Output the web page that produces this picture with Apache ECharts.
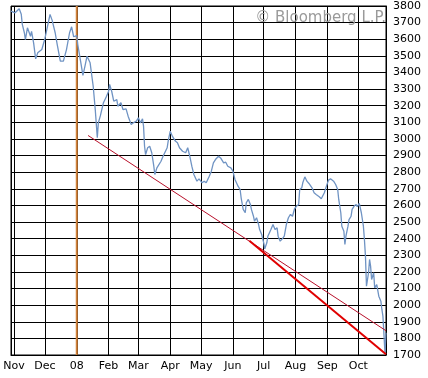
<!DOCTYPE html>
<html>
<head>
<meta charset="utf-8">
<script src="https://cdn.jsdelivr.net/npm/echarts@6/dist/echarts.min.js"></script>
<style>
html,body{margin:0;padding:0;background:#fff;}
#chart{width:428px;height:378px;}
</style>
</head>
<body>
<div id="chart"></div>
<script>
// day offsets from 1 Nov 2007, and index level
var days = [-3,1,5,7,8,10,11,13,14,16,17,19,21,23,27,30,32,35,37,40,42,45,48,51,54,56,58,61,62,65,67,69,71,74,77,79,81,82,84,87,90,92,93,95,97,100,101,104,106,109,111,114,116,119,121,123,125,126,127,128,130,132,134,136,137,139,143,145,149,150,152,154,157,159,161,164,167,169,171,173,175,178,180,183,185,187,190,192,194,196,199,201,204,206,208,211,213,215,218,220,221,223,225,226,228,230,231,233,234,236,238,239,241,243,244,246,247,250,252,254,256,257,259,261,263,265,267,269,271,273,275,277,278,280,281,283,285,287,290,292,294,297,299,302,304,306,308,311,313,315,316,318,319,321,322,323,325,326,328,329,331,333,334,336,337,338,340,341,342,343,345,346,347,348,350,351,353,354,355,357,358,359,361,362];
var values = [3769,3759,3783,3750,3689,3639,3598,3669,3679,3618,3648,3578,3482,3518,3538,3603,3663,3749,3715,3639,3568,3468,3468,3538,3639,3675,3615,3622,3568,3458,3382,3438,3498,3458,3317,3177,3007,3097,3140,3218,3257,3287,3328,3287,3227,3237,3197,3218,3177,3181,3137,3087,3097,3107,3127,3097,3121,3077,2956,2906,2947,2956,2917,2836,2786,2826,2866,2896,2947,2987,3047,3017,2987,2977,2947,2926,2917,2947,2896,2836,2786,2746,2760,2736,2746,2736,2776,2806,2856,2876,2896,2886,2856,2860,2836,2826,2806,2756,2716,2696,2646,2576,2556,2616,2636,2606,2576,2535,2505,2526,2485,2455,2425,2375,2339,2375,2415,2455,2485,2455,2465,2415,2385,2399,2415,2485,2526,2546,2535,2580,2596,2606,2696,2706,2736,2772,2746,2732,2706,2676,2666,2652,2640,2676,2716,2752,2760,2746,2726,2696,2636,2556,2475,2445,2365,2415,2475,2515,2535,2576,2596,2606,2592,2612,2606,2556,2475,2395,2295,2114,2195,2275,2235,2154,2195,2104,2124,2114,2054,2024,1974,1934,1713,1834];

// trend lines: [day, value] end points
var trendUpper = [[72, 3021], [362, 1846]];
var trendLower = [[229, 2387], [362, 1705]];

var yTicks = {min: 1700, max: 3800, step: 100};
var monthNames = ['08','Feb','Mar','Apr','May','Jun','Jul','Aug','Sep','Oct','Nov','Dec'];
var yearMark = 61; // 1 Jan 2008

function dayToTime(d){
	return new Date(2007, 10, 1 + d).getTime();
}

var lineData = [];
for (var i = 0; i < days.length; i++) {
	lineData.push([dayToTime(days[i]), values[i]]);
}
function toPts(arr){
	return arr.map(function(p){ return [dayToTime(p[0]), p[1]]; });
}

var myChart = echarts.init(document.getElementById('chart'));
var option = {
	animation: false,
	backgroundColor: '#fff',
	grid: {
		left: 11, right: 42, top: 6, bottom: 23,
		show: true, borderColor: '#000', borderWidth: 1
	},
	xAxis: {
		type: 'time',
		min: dayToTime(-3),
		max: dayToTime(362),
		splitNumber: 12,
		minInterval: 28 * 86400000,
		maxInterval: 31 * 86400000,
		axisLine: {show: true, lineStyle: {color: '#000', width: 1}},
		axisTick: {show: false},
		splitLine: {show: true, lineStyle: {color: '#000', width: 1}},
		axisLabel: {
			color: '#000',
			fontFamily: 'DejaVu Sans',
			fontSize: 11,
			margin: 6,
			hideOverlap: false,
			showMinLabel: false,
			showMaxLabel: false,
			formatter: function(val){
				var d = new Date(val);
				return monthNames[d.getMonth()];
			}
		}
	},
	yAxis: {
		type: 'value',
		position: 'right',
		min: yTicks.min,
		max: yTicks.max,
		interval: yTicks.step,
		axisLine: {show: true, lineStyle: {color: '#000', width: 1}},
		axisTick: {show: false},
		splitLine: {show: true, lineStyle: {color: '#000', width: 1}},
		axisLabel: {
			color: '#000',
			fontFamily: 'DejaVu Sans',
			fontSize: 11,
			margin: 7,
			formatter: function(v){ return String(v); }
		}
	},
	graphic: [{
		type: 'text',
		right: 42,
		top: 11,
		z: 100,
		style: {
			text: '\u00a9 Bloomberg L.P.',
			fill: '#9a9a9a',
			font: '15px "DejaVu Sans"'
		}
	}],
	series: [
		{
			// year boundary marker, drawn over the black grid line
			name: 'year',
			type: 'line',
			data: [[dayToTime(yearMark), yTicks.min], [dayToTime(yearMark), yTicks.max]],
			symbol: 'none',
			z: 2,
			lineStyle: {color: '#d2823a', width: 2}
		},
		{
			name: 'index',
			type: 'line',
			data: lineData,
			showSymbol: false,
			symbol: 'none',
			z: 3,
			lineStyle: {color: '#6f93c3', width: 1.3}
		},
		{
			name: 'upper',
			type: 'line',
			data: toPts(trendUpper),
			symbol: 'none',
			z: 4,
			lineStyle: {color: '#b8102a', width: 1}
		},
		{
			name: 'lower',
			type: 'line',
			data: toPts(trendLower),
			symbol: 'none',
			z: 4,
			lineStyle: {color: '#e00000', width: 2}
		}
	]
};
myChart.setOption(option);
</script>
</body>
</html>
